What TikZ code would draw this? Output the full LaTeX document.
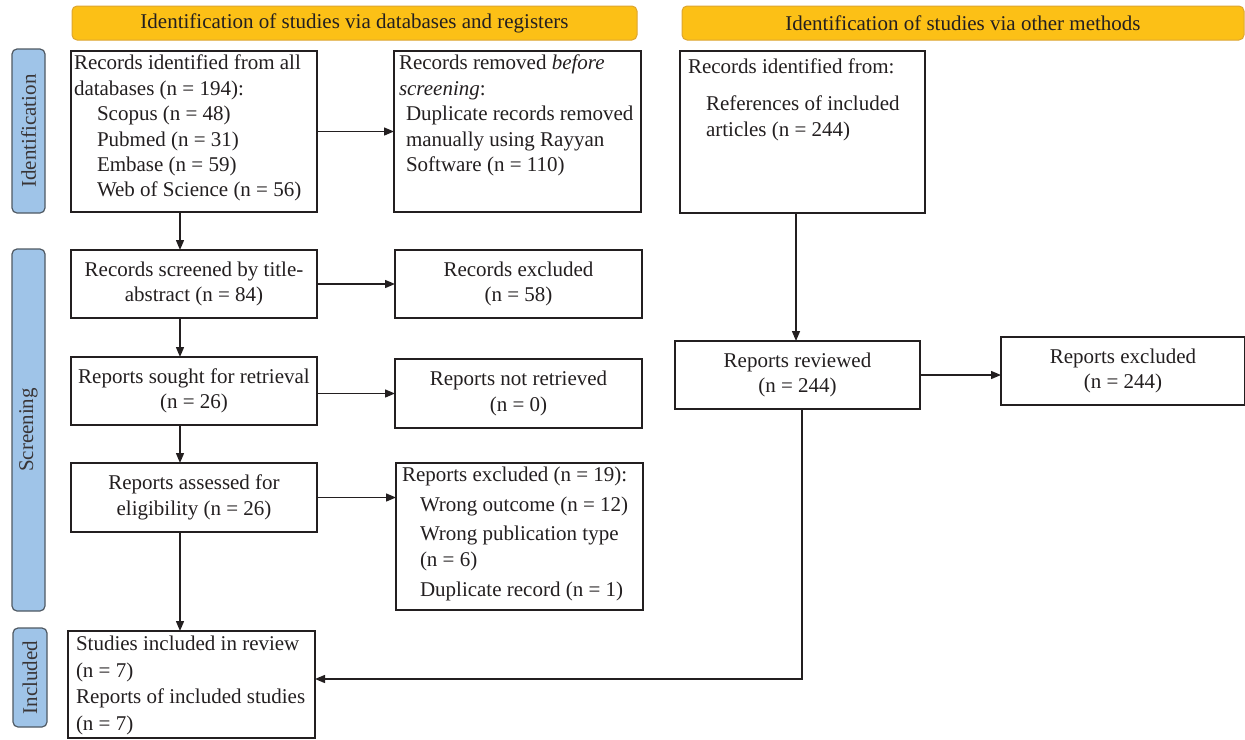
\documentclass[tikz,border=0pt]{standalone}
\usepackage{fontspec}
\setmainfont{Liberation Serif}
\usetikzlibrary{arrows.meta}
\definecolor{ink}{HTML}{231F20}
\definecolor{hdrfill}{HTML}{FCC016}
\definecolor{hdrline}{HTML}{DDA530}
\definecolor{sidefill}{HTML}{9FC4E8}
\definecolor{sideline}{HTML}{4F5963}
\newcommand\flowfont{\fontsize{21}{25.4}\selectfont}
% width, height, left pad, top pad, lines
\newcommand\tbox[5]{\begin{minipage}[c][#2][t]{#1}\vspace*{#4}\hspace*{#3}\begin{tabular}[t]{@{}l@{}}#5\end{tabular}\end{minipage}}
\begin{document}
\begin{tikzpicture}[x=1pt,y=-1pt,
  every node/.style={inner sep=0pt, outer sep=0pt, text=ink, font=\flowfont},
  flowbox/.style={draw=ink, line width=1.2pt, fill=white, anchor=north west, align=center},
  hdr/.style={draw=hdrline, line width=1pt, fill=hdrfill, rounded corners=5pt, minimum height=34pt},
  side/.style={draw=sideline, line width=1.2pt, fill=sidefill, rounded corners=5pt, rotate=90, minimum height=33pt, text=ink!90},
  arr/.style={draw=ink, line width=1.4pt, -{Triangle[length=10pt,width=8pt]}}
]
\useasboundingbox (0,0) rectangle (1245,739);

% headers
\node[hdr, minimum width=565pt] (hdrdb) at (354.5,23) {Identification of studies via databases and registers};
\node[hdr, minimum width=562pt] (hdrot) at (963,23) {Identification of studies via other methods};

% side labels
\node[side, minimum width=164pt] (sideid) at (28.5,131) {Identification};
\node[side, minimum width=362pt] (sidescr) at (28.5,430) {Screening};
\node[side, minimum width=99pt, minimum height=34pt] (sideinc) at (30,677.5) {Included};

% left column
\node[flowbox, minimum width=246pt, minimum height=161pt] (recdb) at (71,51)
  {\tbox{246pt}{161pt}{3pt}{1.2pt}{Records identified from all\\ databases (n = 194):\\ \hspace*{23pt}Scopus (n = 48)\\ \hspace*{23pt}Pubmed (n = 31)\\ \hspace*{23pt}Embase (n = 59)\\ \hspace*{23pt}Web of Science (n = 56)}};
\node[flowbox, minimum width=246pt, minimum height=68pt] (screen) at (71,250)
  {Records screened by title-\\abstract (n = 84)};
\node[flowbox, minimum width=246pt, minimum height=68pt] (sought) at (71,357)
  {Reports sought for retrieval\\(n = 26)};
\node[flowbox, minimum width=246pt, minimum height=69pt] (assess) at (71,463)
  {Reports assessed for\\eligibility (n = 26)};
\node[flowbox, minimum width=247pt, minimum height=107pt] (included) at (68,631)
  {\tbox{247pt}{107pt}{8pt}{2.2pt}{Studies included in review\\[1.1pt] (n = 7)\\[1.1pt] Reports of included studies\\[1.1pt] (n = 7)}};

% middle column
\node[flowbox, minimum width=247pt, minimum height=161pt] (removed) at (394,51)
  {\tbox{247pt}{161pt}{5pt}{1.2pt}{Records removed \textit{before}\\ \textit{screening}:\\ \hspace*{7pt}Duplicate records removed\\ \hspace*{7pt}manually using Rayyan\\ \hspace*{7pt}Software (n = 110)}};
\node[flowbox, minimum width=247pt, minimum height=68pt] (screxcl) at (395,250)
  {Records excluded\\(n = 58)};
\node[flowbox, minimum width=247pt, minimum height=69pt] (notret) at (395,359)
  {Reports not retrieved\\(n = 0)};
\node[flowbox, minimum width=247pt, minimum height=147pt] (repexcl) at (396,463)
  {\tbox{247pt}{147pt}{6pt}{1.2pt}{Reports excluded (n = 19):\\[4.6pt] \hspace*{18pt}Wrong outcome (n = 12)\\[3.6pt] \hspace*{18pt}Wrong publication type\\ \hspace*{18pt}(n = 6)\\[4.6pt] \hspace*{18pt}Duplicate record (n = 1)}};

% right column
\node[flowbox, minimum width=245pt, minimum height=162pt] (other) at (680,51)
  {\tbox{245pt}{162pt}{8pt}{5.2pt}{Records identified from:\\[11.6pt] \hspace*{18pt}References of included\\ \hspace*{18pt}articles (n = 244)}};
\node[flowbox, minimum width=245pt, minimum height=68pt] (reviewed) at (675,341)
  {Reports reviewed\\(n = 244)};
\node[flowbox, minimum width=244pt, minimum height=68pt] (othexcl) at (1001,337)
  {Reports excluded\\(n = 244)};

% connectors
\coordinate (lx) at (180,0);
\coordinate (rx) at (796,0);
\coordinate (turn) at (802,679);
\draw[arr] (recdb.south -| lx) -- (screen.north -| lx);
\draw[arr] (screen.south -| lx) -- (sought.north -| lx);
\draw[arr] (sought.south -| lx) -- (assess.north -| lx);
\draw[arr] (assess.south -| lx) -- (included.north -| lx);
\draw[arr] (recdb.east) -- (removed.west);
\draw[arr] (screen.east) -- (screxcl.west);
\draw[arr] (sought.east |- notret.west) -- (notret.west);
\draw[arr] (assess.east) -- (assess.east -| repexcl.west);
\draw[arr] (other.south -| rx) -- (reviewed.north -| rx);
\draw[arr] (reviewed.east) -- (reviewed.east -| othexcl.west);
\draw[arr] (reviewed.south -| turn) -- (turn) -- (included.east |- turn);
\end{tikzpicture}
\end{document}
